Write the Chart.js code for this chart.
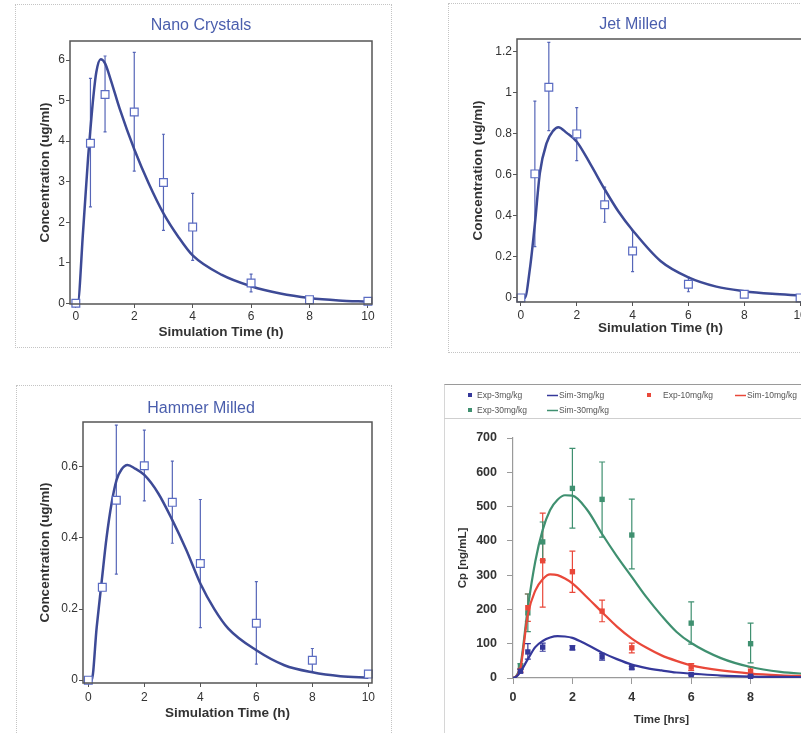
<!DOCTYPE html>
<html>
<head>
<meta charset="utf-8">
<script src="https://cdn.jsdelivr.net/npm/chart.js@4.4.1/dist/chart.umd.min.js"></script>
<style>
  html, body { margin: 0; padding: 0; background: #fff; }
  body { width: 801px; height: 733px; overflow: hidden; position: relative; }
  .box { position: absolute; box-sizing: border-box; border: 1px dotted #c4c4c4; }
  canvas { position: absolute; }
</style>
</head>
<body>
<div class="box" style="left:15px;top:4px;width:377px;height:344px"></div>
<div class="box" style="left:448px;top:3px;width:420px;height:350px"></div>
<div class="box" style="left:16px;top:385px;width:376px;height:420px"></div>
<div style="position:absolute;left:444px;top:384px;width:420px;height:420px;border-left:1px solid #d6d6d6;border-top:1px solid #9a9a9a"></div>
<div style="position:absolute;left:444px;top:418px;width:420px;height:0;border-top:1px solid #cfcfcf"></div>

<canvas id="nano" width="364" height="343" style="left:30px;top:4px"></canvas>
<canvas id="jet" width="366" height="349" style="left:462px;top:3px"></canvas>
<canvas id="hammer" width="365" height="348" style="left:30px;top:385px"></canvas>
<canvas id="dose" width="386" height="349" style="left:444px;top:384px"></canvas>

<script>
// ---- Nano Crystals ----
const nanoTime = [0, 0.5, 1, 2, 3, 4, 6, 8, 10];
const nanoObs  = [0, 3.95, 5.15, 4.72, 2.98, 1.88, 0.5, 0.09, 0.05];
const nanoLo   = [0, 2.38, 4.23, 3.26, 1.8, 1.06, 0.28, 0.05, 0.03];
const nanoHi   = [0, 5.55, 6.1, 6.19, 4.17, 2.71, 0.72, 0.13, 0.07];
const nanoSimTime = [0, 0.06, 0.25, 0.42, 0.5, 0.6, 0.7, 0.85, 1, 1.2, 1.5, 2, 2.5, 3, 3.5, 4, 5, 6, 7, 8, 9, 10];
const nanoSim     = [0, 0, 1.8, 3.6, 4.3, 5.1, 5.7, 6.02, 5.92, 5.5, 4.8, 3.8, 2.95, 2.22, 1.65, 1.18, 0.7, 0.42, 0.24, 0.13, 0.07, 0.04];

// ---- Jet Milled ----
const jetTime = [0, 0.5, 1, 2, 3, 4, 6, 8, 10];
const jetObs  = [0, 0.605, 1.028, 0.8, 0.454, 0.229, 0.067, 0.018, 0];
const jetLo   = [0, 0.25, 0.816, 0.67, 0.369, 0.128, 0.03, 0.018, 0];
const jetHi   = [0, 0.96, 1.247, 0.928, 0.54, 0.328, 0.1, 0.018, 0];
const jetSimTime = [0, 0.14, 0.32, 0.5, 0.68, 0.92, 1.16, 1.34, 1.64, 2, 2.5, 3, 3.5, 4, 5, 6, 7, 8, 9, 10];
const jetSim     = [0, 0, 0.14, 0.36, 0.61, 0.755, 0.816, 0.833, 0.805, 0.762, 0.65, 0.53, 0.42, 0.33, 0.18, 0.1, 0.055, 0.033, 0.02, 0.012];

// ---- Hammer Milled ----
const hammerTime = [0, 0.5, 1, 2, 3, 4, 6, 8, 10];
const hammerObs  = [0, 0.261, 0.506, 0.603, 0.5, 0.328, 0.16, 0.056, 0.017];
const hammerLo   = [0, 0.261, 0.298, 0.504, 0.385, 0.148, 0.045, 0.023, 0.017];
const hammerHi   = [0, 0.261, 0.717, 0.703, 0.616, 0.508, 0.277, 0.089, 0.017];
const hammerSimTime = [0, 0.12, 0.3, 0.48, 0.65, 0.83, 1.01, 1.19, 1.4, 1.67, 2, 2.5, 3, 3.5, 4, 4.5, 5, 6, 7, 8, 9, 10];
const hammerSim     = [0, 0, 0.15, 0.28, 0.4, 0.497, 0.563, 0.593, 0.605, 0.595, 0.577, 0.525, 0.45, 0.366, 0.272, 0.2, 0.145, 0.084, 0.042, 0.022, 0.011, 0.007];

// ---- Dose groups (Cp ng/mL) ----
const expTime = [0.25, 0.5, 1, 2, 3, 4, 6, 8];
const exp3    = [20, 76, 90, 88, 62, 30, 10, 5];
const exp3Lo  = [15, 55, 78, 82, 52, 26, 8, 3];
const exp3Hi  = [25, 100, 102, 94, 72, 34, 13, 7];
const exp10   = [22, 205, 342, 310, 195, 88, 32, 20];
const exp10Lo = [17, 165, 207, 250, 164, 73, 22, 8];
const exp10Hi = [27, 245, 481, 370, 227, 102, 42, 32];
const exp30   = [33, 190, 397, 553, 521, 417, 160, 100];
const exp30Lo = [25, 135, 344, 437, 411, 318, 99, 44];
const exp30Hi = [42, 245, 455, 670, 630, 522, 222, 160];
const simTime = [0, 0.1, 0.25, 0.5, 0.75, 1, 1.25, 1.5, 1.75, 2, 2.5, 3, 3.5, 4, 4.5, 5, 5.5, 6, 7, 8, 9, 10];
const sim3    = [0, 3, 18, 55, 90, 108, 118, 122, 121, 117, 97, 74, 55, 39, 29, 22, 16, 13, 7, 4, 3, 2];
const sim10   = [0, 4, 28, 185, 255, 288, 302, 300, 290, 276, 235, 192, 150, 115, 88, 66, 50, 37, 22, 13, 8, 5];
const sim30   = [0, 5, 35, 205, 340, 432, 490, 520, 533, 532, 490, 420, 355, 295, 235, 182, 135, 102, 58, 32, 18, 11];

// ---- tick labels ----
const timeTicks = [0, 2, 4, 6, 8, 10];
const nanoTicks = [0, 1, 2, 3, 4, 5, 6];
const jetTicks = [0, 0.2, 0.4, 0.6, 0.8, 1, 1.2];
const hammerTicks = [0, 0.2, 0.4, 0.6];
const cpTicks = [0, 100, 200, 300, 400, 500, 600, 700];

const FONT = '"Liberation Sans", Arial, Helvetica, sans-serif';
Chart.defaults.font.family = FONT;
Chart.defaults.color = '#333';

const pts = (xs, ys) => xs.map((x, i) => ({ x: x, y: ys[i] }));
const fixTicks = list => scale => { scale.ticks = list.map(v => ({ value: v })); };

// vertical error bars with caps, drawn under the markers
const errorBars = {
    id: 'errorBars',
    beforeDatasetsDraw(chart) {
        const { ctx, scales: { x, y } } = chart;
        chart.data.datasets.forEach(ds => {
            if (!ds.errLo) return;
            ctx.save();
            ctx.strokeStyle = ds.errColor;
            ctx.lineWidth = 1.2;
            ds.data.forEach((p, j) => {
                const lo = ds.errLo[j], hi = ds.errHi[j];
                if (hi - lo <= 0) return;
                const px = x.getPixelForValue(p.x);
                const y1 = y.getPixelForValue(lo);
                const y2 = y.getPixelForValue(hi);
                const c = ds.capWidth;
                ctx.beginPath();
                ctx.moveTo(px, y1); ctx.lineTo(px, y2);
                ctx.moveTo(px - c, y1); ctx.lineTo(px + c, y1);
                ctx.moveTo(px - c, y2); ctx.lineTo(px + c, y2);
                ctx.stroke();
            });
            ctx.restore();
        });
    }
};

// closed box around the plot area
const plotFrame = {
    id: 'plotFrame',
    afterDatasetsDraw(chart) {
        const { ctx, chartArea: a } = chart;
        ctx.save();
        ctx.strokeStyle = '#555';
        ctx.lineWidth = 1.5;
        ctx.strokeRect(a.left, a.top, a.right - a.left, a.bottom - a.top);
        ctx.restore();
    }
};

function pkPanel(id, title, obs, sim, xr, yr, yTicks, g) {
    return new Chart(document.getElementById(id), {
        type: 'scatter',
        data: {
            datasets: [{
                label: 'Observed',
                data: pts(obs.t, obs.v),
                errLo: obs.lo, errHi: obs.hi, errColor: '#5666b8', capWidth: 1.5,
                pointStyle: 'rect', pointRadius: 5.5, pointHoverRadius: 5.5,
                pointBackgroundColor: '#fff', pointBorderColor: '#5a6bc2', pointBorderWidth: 1.2,
                clip: false
            }, {
                label: 'Simulated',
                data: pts(sim.t, sim.v),
                showLine: true,
                borderColor: '#3d4a96',
                borderWidth: 2.5,
                pointRadius: 0,
                cubicInterpolationMode: 'monotone'
            }]
        },
        options: {
            responsive: false,
            animation: false,
            layout: { padding: { left: 0, top: 0, right: g.padRight, bottom: g.padBottom } },
            plugins: {
                legend: { display: false },
                tooltip: { enabled: false },
                title: {
                    display: true,
                    text: title,
                    color: '#4a5ead',
                    font: { size: 16, weight: 'normal' },
                    padding: { top: g.titleTop, bottom: g.titleBottom }
                }
            },
            scales: {
                x: {
                    type: 'linear', min: xr[0], max: xr[1],
                    afterBuildTicks: fixTicks(timeTicks),
                    afterFit: s => { s.height = g.xHeight; },
                    border: { display: false },
                    grid: { drawOnChartArea: false, tickLength: 4, color: '#555' },
                    ticks: { font: { size: 12 }, padding: g.xTickPad, maxRotation: 0, callback: v => String(v) },
                    title: {
                        display: true, text: 'Simulation Time (h)', color: '#333',
                        font: { size: 13.5, weight: 'bold' }, padding: { top: 0, bottom: g.xTitlePad }
                    }
                },
                y: {
                    type: 'linear', min: yr[0], max: yr[1],
                    afterBuildTicks: fixTicks(yTicks),
                    afterFit: s => { s.width = g.yWidth; },
                    border: { display: false },
                    grid: { drawOnChartArea: false, tickLength: 4, color: '#555' },
                    ticks: { font: { size: 12 }, padding: 1, callback: v => String(v) },
                    title: {
                        display: true, text: 'Concentration (ug/ml)', color: '#333',
                        font: { size: 13.5, weight: 'bold' }, padding: { top: g.yTitlePad, bottom: 0 }
                    }
                }
            }
        },
        plugins: [errorBars, plotFrame]
    });
}

pkPanel('nano', 'Nano Crystals',
    { t: nanoTime, v: nanoObs, lo: nanoLo, hi: nanoHi },
    { t: nanoSimTime, v: nanoSim },
    [-0.2, 10.14], [-0.017, 6.47], nanoTicks,
    { padRight: 22, padBottom: 3, titleTop: 12.4, titleBottom: 5.4, xHeight: 40, xTitlePad: 3.6, xTickPad: 1, yWidth: 40, yTitlePad: 6.9 });

pkPanel('jet', 'Jet Milled',
    { t: jetTime, v: jetObs, lo: jetLo, hi: jetHi },
    { t: jetSimTime, v: jetSim },
    [-0.14, 10.14], [-0.02, 1.263], jetTicks,
    { padRight: 24, padBottom: 12, titleTop: 12.4, titleBottom: 4.4, xHeight: 38, xTitlePad: 3.9, xTickPad: 2, yWidth: 55, yTitlePad: 7.9 });

pkPanel('hammer', 'Hammer Milled',
    { t: hammerTime, v: hammerObs, lo: hammerLo, hi: hammerHi },
    { t: hammerSimTime, v: hammerSim },
    [-0.19, 10.13], [-0.008, 0.726], hammerTicks,
    { padRight: 23, padBottom: 8, titleTop: 13.7, titleBottom: 4.1, xHeight: 42, xTitlePad: 3.6, xTickPad: 3, yWidth: 53, yTitlePad: 6.9 });

// legend laid out in a fixed grid like the original Excel chart
const gridLegend = {
    id: 'gridLegend',
    afterDraw(chart) {
        const cols = [{ mark: 26, text: 33 }, { line: 103, text: 115 }, { mark: 205, text: 219 }, { line: 291, text: 303 }];
        const rows = [11, 26];
        const { ctx } = chart;
        ctx.save();
        ctx.font = '8.5px ' + FONT;
        ctx.textBaseline = 'middle';
        chart.data.datasets.forEach((ds, i) => {
            const c = cols[i % 4];
            const y = rows[Math.floor(i / 4)];
            if (ds.showLine) {
                ctx.strokeStyle = ds.borderColor;
                ctx.lineWidth = 1.5;
                ctx.beginPath();
                ctx.moveTo(c.line, y + 0.5);
                ctx.lineTo(c.text - 1, y + 0.5);
                ctx.stroke();
            } else {
                ctx.fillStyle = ds.pointBackgroundColor;
                ctx.fillRect(c.mark - 2, y - 2, 4, 4);
            }
            ctx.fillStyle = '#555';
            ctx.fillText(ds.label, c.text, y + 0.5);
        });
        ctx.restore();
    }
};

const blue = '#35389a', red = '#e9483a', green = '#3f9070';
const expSet = (label, ys, lo, hi, color) => ({
    label: label, data: pts(expTime, ys), errLo: lo, errHi: hi, errColor: color, capWidth: 3,
    showLine: false, pointStyle: 'rect', pointRadius: 3.8, pointHoverRadius: 3.8,
    pointBackgroundColor: color, pointBorderColor: color, pointBorderWidth: 0, clip: false
});
const simSet = (label, ys, color) => ({
    label: label, data: pts(simTime, ys), showLine: true, borderColor: color, borderWidth: 2.2,
    pointRadius: 0, cubicInterpolationMode: 'monotone'
});

new Chart(document.getElementById('dose'), {
    type: 'scatter',
    data: {
        datasets: [
            expSet('Exp-3mg/kg', exp3, exp3Lo, exp3Hi, blue),
            simSet('Sim-3mg/kg', sim3, blue),
            expSet('Exp-10mg/kg', exp10, exp10Lo, exp10Hi, red),
            simSet('Sim-10mg/kg', sim10, red),
            expSet('Exp-30mg/kg', exp30, exp30Lo, exp30Hi, green),
            simSet('Sim-30mg/kg', sim30, green)
        ]
    },
    options: {
        responsive: false,
        animation: false,
        layout: { padding: { left: 0, top: 54, right: 20, bottom: 3 } },
        plugins: { legend: { display: false }, tooltip: { enabled: false } },
        scales: {
            x: {
                type: 'linear', min: 0, max: 10,
                afterBuildTicks: fixTicks(timeTicks),
                afterFit: s => { s.height = 52; },
                border: { color: '#9a9a9a', width: 1.2 },
                grid: { drawOnChartArea: false, tickLength: 6, color: '#9a9a9a' },
                ticks: { font: { size: 12.5, weight: 'bold' }, padding: 6.5, maxRotation: 0 },
                title: {
                    display: true, text: 'Time [hrs]', color: '#333',
                    font: { size: 11.5, weight: 'bold' }, padding: { top: 0, bottom: 3.1 }
                }
            },
            y: {
                type: 'linear', min: 0, max: 700,
                afterBuildTicks: fixTicks(cpTicks),
                afterFit: s => { s.width = 69; },
                border: { color: '#9a9a9a', width: 1.2 },
                grid: { drawOnChartArea: false, tickLength: 6, color: '#9a9a9a' },
                ticks: { font: { size: 12.5, weight: 'bold' }, padding: 10 },
                title: {
                    display: true, text: 'Cp [ng/mL]', color: '#333',
                    font: { size: 11.5, weight: 'bold' }, padding: { top: 12.1, bottom: 0 }
                }
            }
        }
    },
    plugins: [errorBars, gridLegend]
});
</script>
</body>
</html>
